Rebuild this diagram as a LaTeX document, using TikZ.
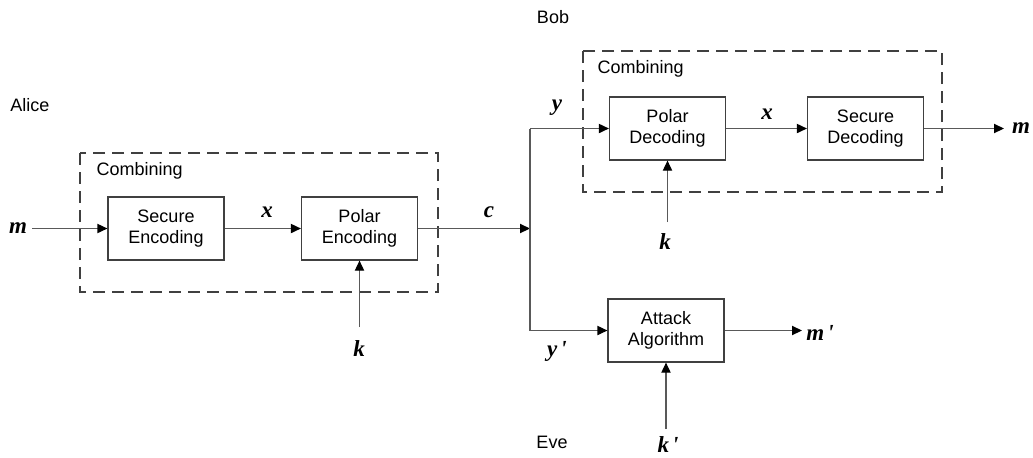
\documentclass[tikz,border=0pt]{standalone}
\usepackage{fontspec}
\setmainfont{Liberation Sans}
\newfontfamily\tmsfont{Liberation Serif}
\usetikzlibrary{arrows.meta,positioning}

\begin{document}
\begin{tikzpicture}[x=0.5pt,y=-0.5pt,line width=0.6pt,
          every node/.style={font=\fontsize{9}{10.5}\selectfont},
          blk/.style={draw=black!75,align=center,minimum width=58pt,minimum height=31.5pt,inner sep=0pt},
          grp/.style={draw=black!75,dash pattern=on 6pt off 3.5pt},
          sym/.style={font=\fontsize{11.5}{13}\selectfont\tmsfont\bfseries\itshape,inner sep=0pt},
          wire/.style={draw=black!65},
          arr/.style={wire,-{Triangle[length=5pt,width=4.6pt,color=black]}}]
        \useasboundingbox (0,0) rectangle (1033,457);
        % parties
        \node (alice) at (30,105) {Alice};
        \node (bob) at (553,17) {Bob};
        \node (eve) at (552,442) {Eve};
        % combining groups
        \draw[grp] (80,153) rectangle (438,292);
        \draw[grp] (583,51) rectangle (942,192);
        \node[anchor=west,inner sep=0pt] (cmbA) at (96,171) {Combining};
        \node[anchor=west,inner sep=0pt] (cmbB) at (597,69) {Combining};
        % blocks
        \node[blk] (senc) at (166,228.5) {Secure\\Encoding};
        \node[blk] (penc) at (359.5,228.5) {Polar\\Encoding};
        \node[blk] (pdec) at (667.5,128.5) {Polar\\Decoding};
        \node[blk] (sdec) at (865.5,128.5) {Secure\\Decoding};
        \node[blk] (atk) at (666,330.5) {Attack\\Algorithm};
        % symbols
        \node[sym] (mA) at (18,228) {m};
        \node[sym] (xA) at (267,212) {x};
        \node[sym] (cA) at (489,212) {c};
        \node[sym] (kA) at (359,349) {k};
        \node[sym] (yB) at (557,108) {y};
        \node[sym] (xB) at (767,114) {x};
        \node[sym] (kB) at (665,242) {k};
        \node[sym] (mB) at (1021,128) {m};
        \node[sym] (yE) at (557,351) {y\hspace{1.5pt}'};
        \node[sym] (mE) at (820,333) {m\hspace{1.5pt}'};
        \node[sym] (kE) at (668,445) {k\hspace{1.5pt}'};
        % wire ends
        \coordinate (mIn) at (32,228.5);
        \coordinate (kInA) at (359.5,327);
        \coordinate (kInB) at (667.5,222);
        \coordinate (kInE) at (666,429);
        \coordinate (jn) at (530,228.5);
        \coordinate (jnT) at (530,128.5);
        \coordinate (jnB) at (530,330.5);
        \coordinate (mOutB) at (1004,128.5);
        \coordinate (mOutE) at (802,330.5);
        % connections
        \draw[arr] (mIn) -- (senc);
        \draw[arr] (senc) -- (penc);
        \draw[arr] (kInA) -- (penc);
        \draw[arr] (penc) -- (jn);
        \draw[wire] (jnT) -- (jnB);
        \draw[arr] (jnT) -- (pdec);
        \draw[arr] (jnB) -- (atk);
        \draw[arr] (pdec) -- (sdec);
        \draw[arr] (kInB) -- (pdec);
        \draw[arr] (sdec) -- (mOutB);
        \draw[arr] (kInE) -- (atk);
        \draw[arr] (atk) -- (mOutE);
      \end{tikzpicture}
\end{document}
